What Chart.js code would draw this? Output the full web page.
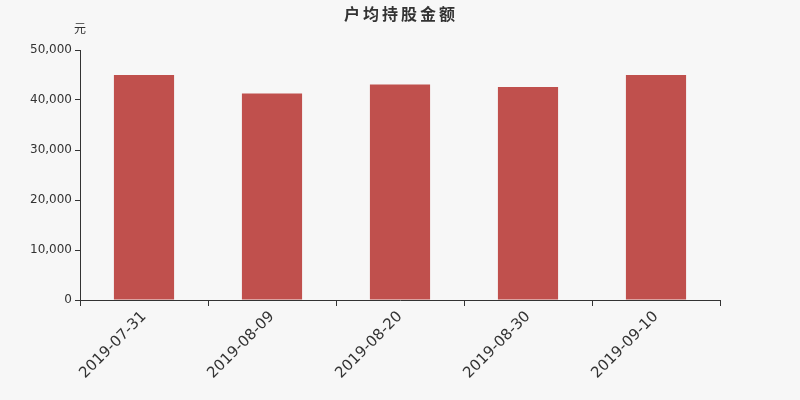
<!DOCTYPE html>
<html>
<head>
<meta charset="utf-8">
<script src="https://cdn.jsdelivr.net/npm/chart.js@4/dist/chart.umd.min.js"></script>
<style>
  html, body { margin: 0; padding: 0; background: #f7f7f7; }
  #wrap { width: 800px; height: 400px; }
</style>
</head>
<body>
<div id="wrap"><canvas id="chartCanvas" width="800" height="400"></canvas></div>
<script>
// Chart data
const dates = ['2019-07-31', '2019-08-09', '2019-08-20', '2019-08-30', '2019-09-10'];
const avgHolding = [45000, 41300, 43100, 42600, 45000];
const chartTitle = '户均持股金额';
const unitLabel = '元';

const textColor = '#333333';
const barColor = '#c0504d';

// draws the title and the unit above the y axis
const headerPlugin = {
  id: 'header',
  afterDraw(chart) {
    const ctx = chart.ctx;
    ctx.save();
    ctx.fillStyle = textColor;
    ctx.textAlign = 'center';
    ctx.textBaseline = 'middle';
    ctx.font = 'bold 16px "Noto Sans CJK SC", "DejaVu Sans", sans-serif';
    ctx.letterSpacing = '3px';
    ctx.fillText(chartTitle, 401, 14);
    ctx.letterSpacing = '0px';
    ctx.font = '12px "Noto Sans CJK SC", "DejaVu Sans", sans-serif';
    ctx.fillText(unitLabel, chart.chartArea.left, 28);
    ctx.restore();
  }
};

const ctx = document.getElementById('chartCanvas').getContext('2d');
new Chart(ctx, {
  type: 'bar',
  data: {
    labels: dates,
    datasets: [{
      label: chartTitle,
      data: avgHolding,
      backgroundColor: barColor,
      barPercentage: 0.47,
      categoryPercentage: 1.0
    }]
  },
  options: {
    responsive: false,
    animation: false,
    layout: { padding: { left: 0, right: 80, top: 50, bottom: 0 } },
    plugins: {
      legend: { display: false },
      tooltip: { enabled: false }
    },
    scales: {
      x: {
        offset: true,
        grid: {
          offset: true,
          drawOnChartArea: false,
          drawTicks: true,
          tickLength: 6,
          color: textColor
        },
        border: { color: textColor, width: 1 },
        ticks: {
          color: textColor,
          font: { family: '"DejaVu Sans", sans-serif', size: 15 },
          maxRotation: 45,
          minRotation: 45,
          padding: 2
        },
        afterFit(scale) { scale.height = 100; }
      },
      y: {
        min: 0,
        max: 50000,
        grid: {
          drawOnChartArea: false,
          drawTicks: true,
          tickLength: 5,
          color: textColor
        },
        border: { color: textColor, width: 1 },
        ticks: {
          stepSize: 10000,
          color: textColor,
          font: { family: '"DejaVu Sans", sans-serif', size: 12 },
          padding: 3,
          callback: v => v.toLocaleString('en-US')
        },
        afterFit(scale) { scale.width = 80; }
      }
    }
  },
  plugins: [headerPlugin]
});
</script>
</body>
</html>
